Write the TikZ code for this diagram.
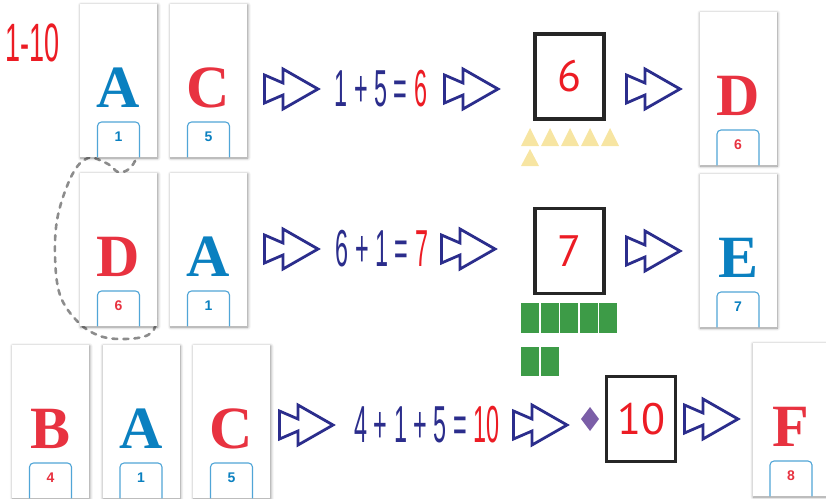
\documentclass[tikz,border=0pt]{standalone}
\usepackage{fontspec}
\usepackage{xcolor}
\usepackage{graphicx}
\usepackage{tikz}
\usetikzlibrary{positioning, calc, shadows.blur}
\setmainfont{Liberation Serif}
\newfontfamily\handfont{Liberation Sans}
\newfontfamily\boxfont{PT Sans}
\newfontfamily\tabfont{Liberation Sans}
\definecolor{cardblue}{RGB}{10,128,192}
\definecolor{cardred}{RGB}{232,50,64}
\definecolor{navy}{RGB}{43,45,140}
\definecolor{eqred}{RGB}{236,28,36}
\definecolor{badgeblue}{RGB}{80,165,215}
\definecolor{lightyellow}{RGB}{247,229,162}
\definecolor{darkgreen}{RGB}{61,155,71}
\definecolor{lilac}{RGB}{123,94,167}

% card with letter and number tab: name, x, top y, letter, letter colour, number, number colour
\newcommand{\lettercard}[7]{%
    \node[card, anchor=north] (#1) at (#2,#3) {};
    \node[cardletter, text=#5] (#1-let) at ($(#1.north)+(0,103)$) {#4};
    \draw[badge] ($(#1.south)+(-21,0)$) |- ($(#1.north)+(0,118)$) -| ($(#1.south)+(21,0)$);
    \node[badgenum, text=#7] (#1-num) at ($(#1.north)+(0,133)$) {#6};
}

\tikzset{
    ffarrow/.pic={\draw[navy, line width=2.8pt, line join=miter] (1.5,-14) -- (20,-6) -- (20,-20) -- (55,0) -- (20,20) -- (20,6) -- (1.5,14) -- cycle;}
}

\begin{document}
\begin{tikzpicture}[
    x=1pt, y=-1pt,
    card/.style={rectangle, fill=white, minimum width=77pt, minimum height=153pt, inner sep=0pt,
        blur shadow={shadow xshift=0.8pt, shadow yshift=-0.8pt, shadow blur radius=3pt, shadow blur steps=6, shadow opacity=45}},
    cardletter/.style={anchor=base, inner sep=0pt, font=\fontsize{60}{60}\selectfont\bfseries},
    badge/.style={draw=badgeblue, line width=1.1pt, rounded corners=4pt},
    badgenum/.style={inner sep=0pt, font=\tabfont\fontsize{14}{14}\selectfont\bfseries},
    eq/.style={inner sep=0pt, text=navy, font=\handfont\fontsize{52}{52}\selectfont},
    numbox/.style={draw=black!85, line width=3.5pt, minimum width=69pt, minimum height=85pt, inner sep=0pt,
        text=eqred, font=\boxfont\fontsize{44}{44}\selectfont}
]
    \useasboundingbox (0,0) rectangle (826,498);
    \clip (0,0) rectangle (826,498);

    % Loop behind the cards
    \draw[black!45, line width=2.6pt, dash pattern=on 5pt off 6pt, line cap=round]
        plot[smooth, tension=0.6] coordinates {(142,140) (137,157) (129,169) (118,172) (108,164) (88,158)
        (72,175) (58,215) (55,255) (60,295) (78,322) (100,336) (125,339) (148,335) (156,322) (150,300)};

    % Title
    \node[inner sep=0pt, text=eqred, font=\handfont\fontsize{54}{54}\selectfont] (range) at (33,43) {\scalebox{0.5}[1]{1-10}};

    % Cards
    \lettercard{a1}{118.5}{4}{A}{cardblue}{1}{cardblue}
    \lettercard{c1}{208.5}{4}{C}{cardred}{5}{cardblue}
    \lettercard{d1}{738}{12}{D}{cardred}{6}{cardred}
    \lettercard{d2}{118.5}{173}{D}{cardred}{6}{cardred}
    \lettercard{a2}{208.5}{173}{A}{cardblue}{1}{cardblue}
    \lettercard{e2}{738}{174}{E}{cardblue}{7}{cardblue}
    \lettercard{b3}{50.5}{345}{B}{cardred}{4}{cardred}
    \lettercard{a3}{141}{345}{A}{cardblue}{1}{cardblue}
    \lettercard{c3}{231.5}{345}{C}{cardred}{5}{cardblue}
    \lettercard{f3}{791}{343}{F}{cardred}{8}{cardred}

    % Sums
    \node[eq] (sum1) at (381,89) {\scalebox{0.45}[1]{1 + 5 = \textcolor{eqred}{6}}};
    \node[eq] (sum2) at (382,249) {\scalebox{0.45}[1]{6 + 1 = \textcolor{eqred}{7}}};
    \node[eq] (sum3) at (427,425) {\scalebox{0.45}[1]{4 + 1 + 5 = \textcolor{eqred}{10}}};

    % Result boxes
    \node[numbox] (six) at (569.5,76.5) {6};
    \node[numbox] (seven) at (569.5,251) {7};
    \node[numbox] (ten) at (641,419) {10};

    % Arrows
    \pic at (263,89) {ffarrow};
    \pic at (443,89) {ffarrow};
    \pic at (625,89) {ffarrow};
    \pic at (263,249) {ffarrow};
    \pic at (440,249) {ffarrow};
    \pic at (625,251) {ffarrow};
    \pic at (278,425) {ffarrow};
    \pic at (512,425) {ffarrow};
    \pic at (683,419) {ffarrow};

    % Counters
    \foreach \i in {0,...,4}
        \fill[lightyellow] (521+20*\i,146) -- ++(18,0) -- ++(-9,-18) -- cycle;
    \fill[lightyellow] (521,166) -- ++(18,0) -- ++(-9,-17) -- cycle;
    \foreach \i in {0,...,4}
        \fill[darkgreen] (521+19.5*\i,303) rectangle ++(18.3,30);
    \foreach \i in {0,1}
        \fill[darkgreen] (521+19.5*\i,347) rectangle ++(18.3,29);
    \fill[lilac] (590,407) -- (599,419) -- (590,431) -- (581,419) -- cycle;
\end{tikzpicture}
\end{document}
